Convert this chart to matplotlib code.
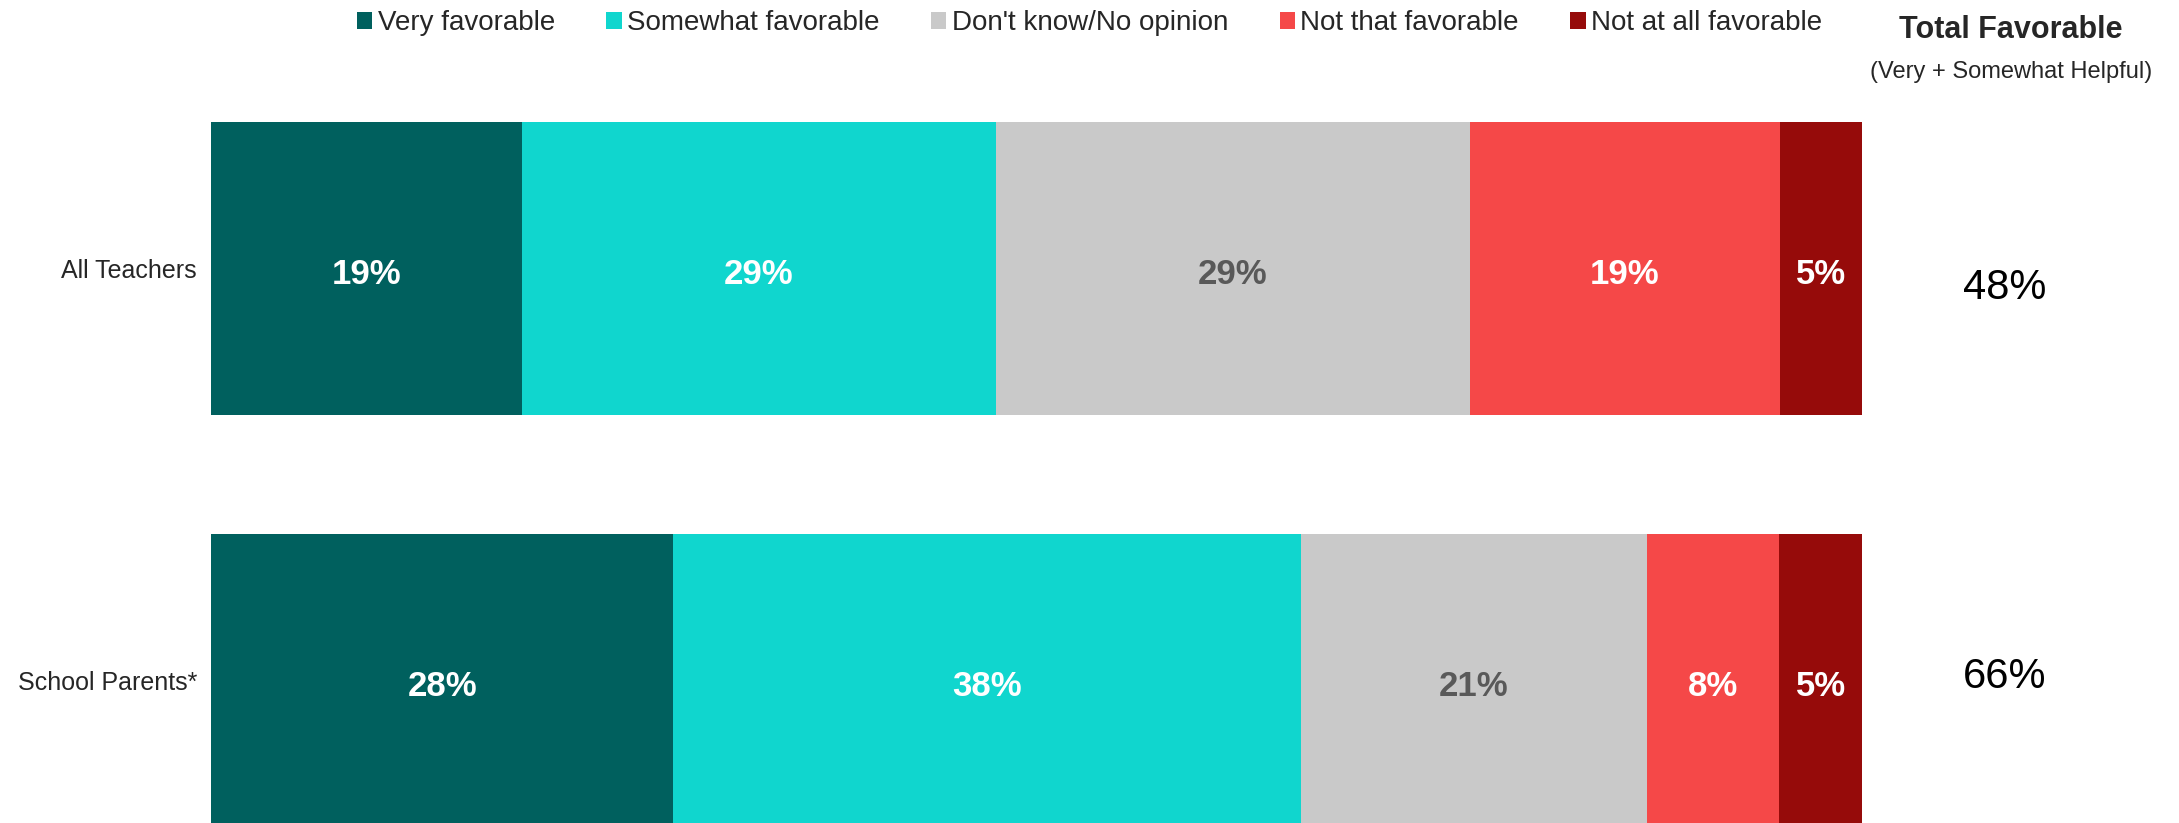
import matplotlib.pyplot as plt

plt.rcParams['font.family'] = ['Liberation Sans', 'DejaVu Sans']

# Données
groupes = ["All Teachers", "School Parents*"]
reponses = ["Very favorable", "Somewhat favorable", "Don't know/No opinion",
            "Not that favorable", "Not at all favorable"]
valeurs = [
    [19, 29, 29, 19, 5],
    [28, 38, 21, 8, 5],
]
total_favorable = ["48%", "66%"]

couleurs = ["#00605E", "#10D6CE", "#C9C9C9", "#F54848", "#960B0A"]
couleurs_texte = ["white", "white", "#595959", "white", "white"]

fig = plt.figure(figsize=(21.79, 8.23), dpi=100)
ax = fig.add_axes([211 / 2179, 0, (1862 - 211) / 2179, 1 - 122 / 823])

# Barres empilées, chaque ligne ramenée à 100 %
for i, ligne in enumerate(valeurs):
    total = sum(ligne)
    gauche = 0
    for j, v in enumerate(ligne):
        w = v / total * 100
        ax.barh(i, w, left=gauche, height=0.712, color=couleurs[j],
                label=reponses[j] if i == 0 else None)
        ax.text(gauche + w / 2, i + 0.014, f"{v}%", ha="center", va="center",
                fontsize=25, fontweight="bold", color=couleurs_texte[j])
        gauche += w

ax.set_xlim(0, 100)
ax.set_ylim(1.346, -0.356)
ax.set_yticks(range(len(groupes)))
ax.set_yticklabels(groupes, fontsize=18, color="#262626")
ax.tick_params(axis="y", length=0, pad=10)
ax.set_xticks([])
for s in ax.spines.values():
    s.set_visible(False)

# Colonne "Total Favorable"
fig.text(2011 / 2179, 1 - 30 / 823, "Total Favorable", ha="center", va="center",
         fontsize=22, fontweight="bold", color="#262626")
fig.text(2011 / 2179, 1 - 72 / 823, "(Very + Somewhat Helpful)", ha="center",
         va="center", fontsize=17, color="#262626")
for y, t in zip([288, 677], total_favorable):
    fig.text(2005 / 2179, 1 - y / 823, t, ha="center", va="center",
             fontsize=30, color="black")

# Légende
fig.legend(loc="center", bbox_to_anchor=(0.5, 1 - 23 / 823), ncol=5,
           frameon=False, fontsize=20, handlelength=0.55, handleheight=0.55,
           handletextpad=0.2, columnspacing=1.85, labelcolor="#262626")

fig.savefig("out.png", dpi=100)
